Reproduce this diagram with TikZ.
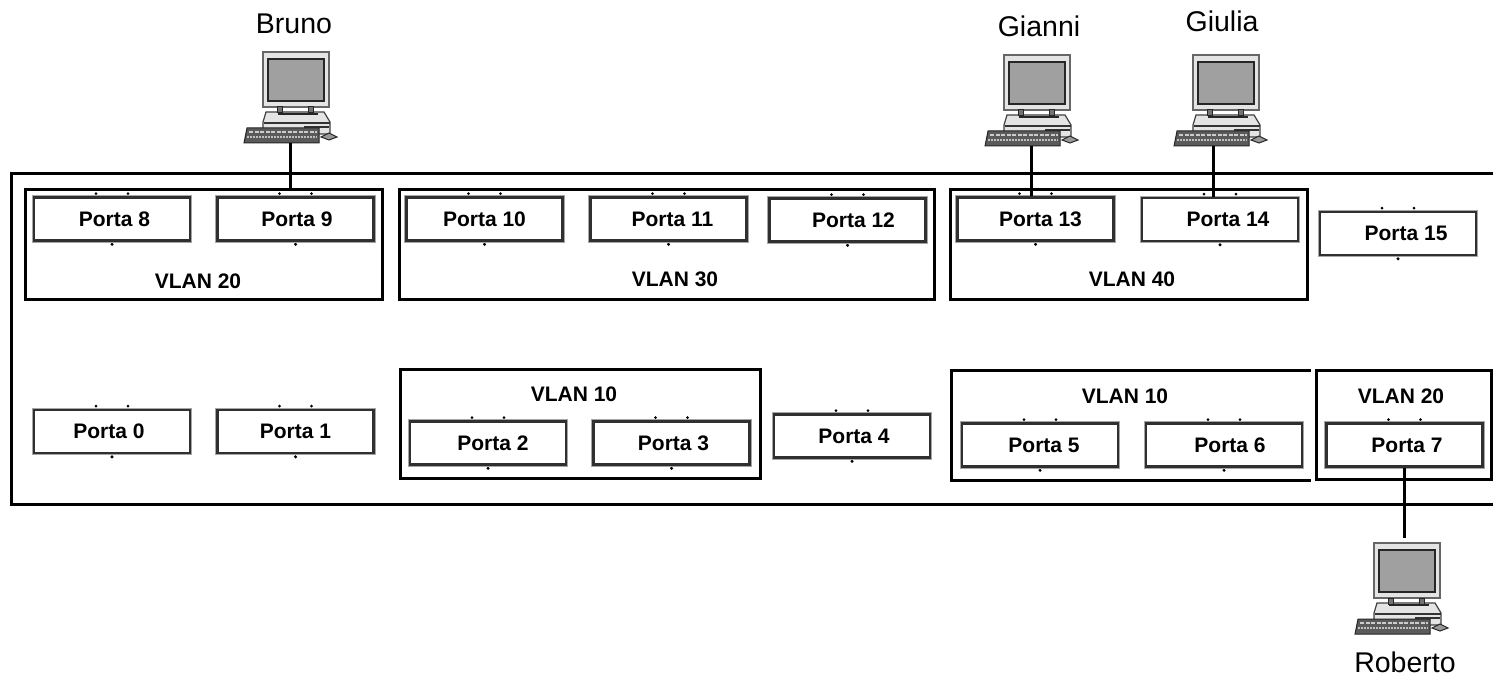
\documentclass[tikz,border=0pt]{standalone}
\usepackage{fontspec}
\setmainfont{Liberation Sans}
\usepackage{xcolor}
\usepackage{tikz}
\usetikzlibrary{positioning}

\definecolor{bordoporta}{HTML}{303030}
\definecolor{guscio}{HTML}{E4E4E4}
\definecolor{schermo}{HTML}{A0A0A0}
\definecolor{tastiera}{HTML}{5A5A5A}

\newcommand{\sposta}[2]{\hspace*{#1pt}#2}

\tikzset{
  porta/.style={draw=bordoporta, line width=2.4pt, fill=white, inner sep=0pt,
    preaction={draw=black!35, line width=4.2pt},
    minimum width=156pt, minimum height=43pt,
    font=\fontsize{21}{25}\selectfont\bfseries,
    append after command={\pgfextra{
      \fill[black] ([xshift=-16pt,yshift=2.6pt]\tikzlastnode.north) circle (1.5);
      \fill[black] ([xshift=16pt,yshift=2.6pt]\tikzlastnode.north) circle (1.5);
      \fill[black] ([yshift=-2.6pt]\tikzlastnode.south) circle (1.7);
    }}},
  vlan/.style={draw=black, line width=3pt, inner sep=0pt},
  etichetta/.style={font=\fontsize{21}{25}\selectfont\bfseries, inner sep=0pt},
  nome/.style={font=\fontsize{28.5}{34}\selectfont, inner sep=0pt},
  filo/.style={draw=black, line width=3pt},
  computer/.pic={
    % monitor
    \draw[fill=guscio, draw=black!60, line width=1.2pt] (-33,0) rectangle (33,55);
    \draw[fill=schermo, draw=black!85, line width=1.2pt] (-28,7) rectangle (28,49);
    % case
    \draw[fill=guscio, draw=black!75, line width=1.2pt] (-30,60) -- (28,60) -- (34,70) -- (34,82) -- (-33,82) -- (-33,70) -- cycle;
    \draw[fill=black!55, draw=black!85, line width=1pt] (-19,55) rectangle (-14,61);
    \draw[fill=black!55, draw=black!85, line width=1pt] (12,55) rectangle (17,61);
    \draw[black!85, line width=1.4pt] (-18,62) -- (22,62);
    \draw[black!80, line width=1.2pt] (-32,71) -- (34,71);
    \draw[black!80, line width=1.2pt] (8,75) -- (33,75);
    % keyboard
    \draw[fill=tastiera, draw=black!85, line width=1pt] (-49,76) -- (23,76) -- (23,91) -- (-52,91) -- cycle;
    \draw[black!20, line width=1.4pt, dash pattern=on 4pt off 1.5pt] (-47,80) -- (21,80);
    \draw[black!25, line width=1.4pt, dash pattern=on 2pt off 1pt] (-49,85) -- (21,85);
    % mouse
    \draw[fill=black!40, draw=black!85, line width=1pt] (25,85) -- (33,81) -- (41,85) -- (33,88) -- cycle;
    \coordinate (-base) at (-6,91);
    \coordinate (-top) at (0,-5);
  }
}

\begin{document}
\begin{tikzpicture}[x=1pt,y=-1pt]

\useasboundingbox (0,0) rectangle (1493,676);
\fill[white] (0,0) rectangle (1493,676);

% Draw switch
\draw[line width=3pt] (1493,174) -- (11.5,174) -- (11.5,504) -- (1493,504);

% Draw vlan boxes
\node[vlan, minimum width=357pt, minimum height=109pt] (vlan20a) at (203.5,244.5) {};
\node[vlan, minimum width=535pt, minimum height=109pt] (vlan30) at (666.5,244.5) {};
\node[vlan, minimum width=357pt, minimum height=109pt] (vlan40) at (1128.5,244.5) {};
\node[vlan, minimum width=360pt, minimum height=109pt] (vlan10a) at (580,423.5) {};
\node[vlan, minimum width=175pt, minimum height=109pt] (vlan20b) at (1403.5,424.5) {};
\draw[line width=3pt] (1311,370) -- (951.5,370) -- (951.5,480) -- (1311,480);

% Upper ports
\node[porta] (porta8) at (112,219) {\sposta{5}{Porta 8}};
\node[porta] (porta9) at (295.5,219) {\sposta{3}{Porta 9}};
\node[porta] (porta10) at (484.5,219) {Porta 10};
\node[porta] (porta11) at (668.5,219) {\sposta{8}{Porta 11}};
\node[porta] (porta12) at (847.5,220) {\sposta{12}{Porta 12}};
\node[porta] (porta13) at (1035.5,219) {\sposta{10}{Porta 13}};
\node[porta] (porta14) at (1220,219.5) {\sposta{16}{Porta 14}};
\node[porta] (porta15) at (1398,233.5) {\sposta{16}{Porta 15}};

% Lower ports
\node[porta] (porta0) at (112,431.5) {\hspace*{-6pt}Porta 0};
\node[porta] (porta1) at (295.5,431.5) {Porta 1};
\node[porta] (porta2) at (488,443) {\sposta{10}{Porta 2}};
\node[porta] (porta3) at (671.5,443) {\sposta{4}{Porta 3}};
\node[porta] (porta4) at (852,436) {\sposta{4}{Porta 4}};
\node[porta] (porta5) at (1040,445) {\sposta{8}{Porta 5}};
\node[porta] (porta6) at (1224,445) {\sposta{12}{Porta 6}};
\node[porta] (porta7) at (1404.5,445) {\sposta{5}{Porta 7}};

% Vlan labels
\node[etichetta] (lab20a) at (198,281) {VLAN 20};
\node[etichetta] (lab30) at (675,279) {VLAN 30};
\node[etichetta] (lab40) at (1132,279) {VLAN 40};
\node[etichetta] (lab10a) at (574,394) {VLAN 10};
\node[etichetta] (lab10b) at (1125,396) {VLAN 10};
\node[etichetta] (lab20b) at (1401,396) {VLAN 20};

% Draw computers
\pic (bruno) at (296,52) {computer};
\pic (gianni) at (1037,55) {computer};
\pic (giulia) at (1226,55) {computer};
\pic (roberto) at (1407,543) {computer};

\node[nome] (nbruno) at (294,24) {Bruno};
\node[nome] (ngianni) at (1039,26) {Gianni};
\node[nome] (ngiulia) at (1222,21) {Giulia};
\node[nome] (nroberto) at (1405,662) {Roberto};

% Draw wires
\draw[filo] (bruno-base) -- (bruno-base |- vlan20a.north);
\draw[filo] (gianni-base) -- (gianni-base |- porta13.north);
\draw[filo] ([xshift=-7pt]giulia-base) -- ([xshift=-7pt]giulia-base |- porta14.north);
\draw[filo] (porta7.south) -- (porta7.south |- roberto-top);

\end{tikzpicture}
\end{document}
